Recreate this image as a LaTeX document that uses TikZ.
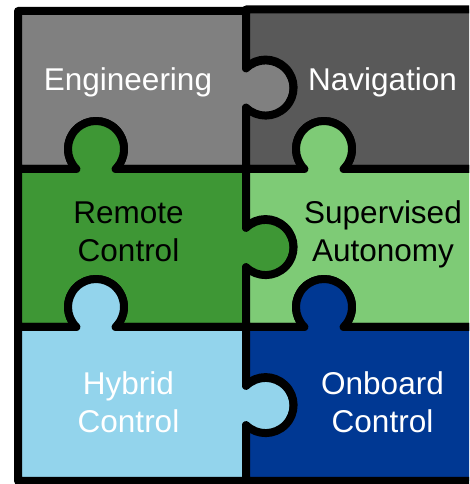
\documentclass[tikz,border=0pt]{standalone}
\usepackage{fontspec}
\setmainfont{Liberation Sans}
\usetikzlibrary{calc}
\newcommand{\KNOBR}{28}
\newcommand{\KNOBA}{45.6}
\newcommand{\LINEPT}{8pt}
\definecolor{enggray}{RGB}{128,128,128}
\definecolor{navgray}{RGB}{89,89,89}
\definecolor{remgreen}{RGB}{62,151,53}
\definecolor{supgreen}{RGB}{126,203,118}
\definecolor{hybblue}{RGB}{147,212,236}
\definecolor{onbblue}{RGB}{0,56,147}
\tikzset{
	piece/.style={draw=black,line width=\LINEPT,line join=round},
	piecetext/.style={anchor=base,align=center,font=\fontsize{31.5}{38}\selectfont}
}

\begin{document}
\begin{tikzpicture}[x=1pt,y=1pt]
	
		\clip (0,0) rectangle (469,484);
		
		%% Engineering
		\draw[piece,fill=enggray] (18,315) -- (18,473) -- (246,473) -- (246,415.6)
			arc[start angle={180-\KNOBA}, end angle={-180+\KNOBA}, radius=\KNOBR] -- (246,315)
			-- (115.6,315) arc[start angle={-\KNOBA}, end angle={180+\KNOBA}, radius=\KNOBR] -- cycle;
		
		%% Navigation
		\draw[piece,fill=navgray] (246,315) -- (246,376.4)
			arc[start angle={-180+\KNOBA}, end angle={180-\KNOBA}, radius=\KNOBR] -- (246,474.5)
			-- (474,474.5) -- (474,315)
			-- (343.6,315) arc[start angle={-\KNOBA}, end angle={180+\KNOBA}, radius=\KNOBR] -- cycle;
		
		%% Remote Control
		\draw[piece,fill=remgreen] (18,157) -- (18,315)
			-- (76.4,315) arc[start angle={180+\KNOBA}, end angle={-\KNOBA}, radius=\KNOBR] -- (246,315)
			-- (246,256.1) arc[start angle={180-\KNOBA}, end angle={-180+\KNOBA}, radius=\KNOBR] -- (246,157)
			-- (115.6,157) arc[start angle={-\KNOBA}, end angle={180+\KNOBA}, radius=\KNOBR] -- cycle;
		
		%% Supervised Autonomy
		\draw[piece,fill=supgreen] (246,157) -- (246,216.9)
			arc[start angle={-180+\KNOBA}, end angle={180-\KNOBA}, radius=\KNOBR] -- (246,315)
			-- (304.4,315) arc[start angle={180+\KNOBA}, end angle={-\KNOBA}, radius=\KNOBR] -- (474,315)
			-- (474,157)
			-- (343.6,157) arc[start angle={-\KNOBA}, end angle={180+\KNOBA}, radius=\KNOBR] -- cycle;
		
		%% Hybrid Control
		\draw[piece,fill=hybblue] (18,3) -- (18,157)
			-- (76.4,157) arc[start angle={180+\KNOBA}, end angle={-\KNOBA}, radius=\KNOBR] -- (246,157)
			-- (246,98.1) arc[start angle={180-\KNOBA}, end angle={-180+\KNOBA}, radius=\KNOBR] -- (246,3)
			-- cycle;
		
		%% Onboard Control
		\draw[piece,fill=onbblue] (246,3) -- (246,58.9)
			arc[start angle={-180+\KNOBA}, end angle={180-\KNOBA}, radius=\KNOBR] -- (246,157)
			-- (304.4,157) arc[start angle={180+\KNOBA}, end angle={-\KNOBA}, radius=\KNOBR] -- (474,157)
			-- (474,3) -- cycle;
		
		%% labels (base = baseline of the last line)
		\node[piecetext,text=white] (engineering) at (128,393) {Engineering};
		\node[piecetext,text=white] (navigation) at (382.5,393) {Navigation};
		\node[piecetext,text=black] (remote) at (128.5,222) {Remote\\Control};
		\node[piecetext,text=black] (supervised) at (383,222) {Supervised\\Autonomy};
		\node[piecetext,text=white] (hybrid) at (128.5,51) {Hybrid\\Control};
		\node[piecetext,text=white] (onboard) at (382.5,51) {Onboard\\Control};

	\end{tikzpicture}
\end{document}
